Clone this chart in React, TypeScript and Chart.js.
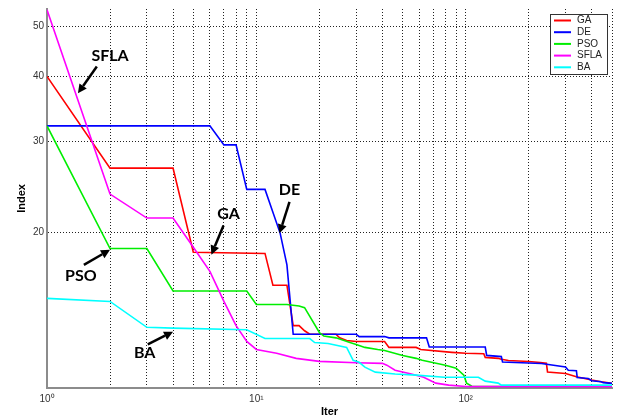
import React, { useEffect, useRef } from 'react';
import { Chart, registerables } from 'chart.js';

Chart.register(...registerables);

// ---- Data (iteration, index) ----
const GA_ITER = [1, 2, 4, 5, 11, 12, 14, 15, 16, 17, 18, 24, 25, 27, 30, 41, 43, 58, 61, 86, 100, 122, 124, 143, 148, 160, 200, 227, 243, 246, 300, 338, 400, 444, 500];
const GA_INDEX = [40, 26.6, 26.6, 18.3, 18.2, 15.8, 15.8, 13.2, 13.2, 12.9, 12.7, 12.7, 12.5, 12.35, 12.3, 12.3, 11.98, 11.98, 11.87, 11.72, 11.67, 11.65, 11.46, 11.41, 11.36, 11.3, 11.25, 11.2, 11.16, 10.74, 10.67, 10.51, 10.36, 10.28, 10.21];

const DE_ITER = [1, 6, 7, 8, 9, 11, 13, 14, 15, 30, 31, 41, 43, 65, 67, 124, 126, 148, 150, 230, 300, 309, 338, 341, 385, 400, 444, 454, 500];
const DE_INDEX = [32.1, 32.1, 29.5, 29.5, 24.2, 24.2, 19.9, 17.3, 12.7, 12.7, 12.57, 12.57, 12.5, 12.5, 12.0, 12.0, 11.56, 11.5, 11.23, 11.15, 10.98, 10.82, 10.8, 10.48, 10.43, 10.33, 10.28, 10.24, 10.21];

const PSO_ITER = [1, 2, 3, 4, 9, 10, 14, 16, 17, 20, 21, 24, 28, 30, 33, 38, 41, 50, 58, 62, 80, 90, 98, 101, 107, 115, 500];
const PSO_INDEX = [32.1, 18.6, 18.6, 15.4, 15.4, 14.5, 14.5, 14.4, 14.3, 12.8, 12.6, 12.5, 12.24, 12.14, 11.98, 11.87, 11.82, 11.56, 11.41, 11.31, 11.07, 10.92, 10.59, 10.22, 10.08, 10.06, 10.06];

const SFLA_ITER = [1, 2, 3, 4, 5, 6, 7, 8, 9, 10, 12.5, 15.5, 20, 30, 40, 42, 46, 55, 63, 72, 83, 100, 112, 500];
const SFLA_INDEX = [53.8, 23.7, 21.3, 21.3, 18.7, 16.8, 14.7, 13.2, 12.3, 11.87, 11.67, 11.41, 11.26, 11.19, 11.16, 11.07, 10.82, 10.64, 10.49, 10.22, 10.13, 10.07, 10.06, 10.06];

const BA_ITER = [1, 2, 3, 4, 9, 11, 18, 19, 22, 27, 29, 31, 33, 37, 46, 58, 79, 115, 124, 143, 148, 500];
const BA_INDEX = [14.9, 14.7, 13.1, 13.05, 12.96, 12.46, 12.46, 12.24, 12.19, 11.98, 11.31, 11.21, 10.97, 10.73, 10.64, 10.59, 10.49, 10.49, 10.31, 10.22, 10.13, 10.13];

const SERIES_NAMES = ['GA', 'DE', 'PSO', 'SFLA', 'BA'];
const SERIES_COLORS = ['#ff0000', '#0000ff', '#00ee00', '#ff00ff', '#00ffff'];

const X_GRID = [1, 2, 3, 4, 5, 6, 7, 8, 9, 10, 20, 30, 40, 50, 60, 70, 80, 90, 100, 200, 300, 400, 500];
const X_LABELS: Record<number, string> = { 1: '10\u2070', 10: '10\u00b9', 100: '10\u00b2' };
const Y_TICKS = [20, 30, 40, 50];

// Annotations (text + arrow) in data coordinates
const NOTE_TEXT = ['SFLA', 'PSO', 'BA', 'GA', 'DE'];
const NOTE_ITER = [2.0, 1.45, 2.93, 7.36, 14.4];
const NOTE_INDEX = [43.9, 16.5, 11.67, 21.7, 24.1];
const ARROW_FROM_ITER = [1.73, 1.5, 3.03, 6.97, 14.4];
const ARROW_FROM_INDEX = [41.8, 17.3, 12.14, 20.6, 22.9];
const ARROW_TO_ITER = [1.405, 2.0, 4.0, 6.1, 12.9];
const ARROW_TO_INDEX = [37.1, 18.5, 12.85, 18.1, 19.9];

const SERIES_ITER = [GA_ITER, DE_ITER, PSO_ITER, SFLA_ITER, BA_ITER];
const SERIES_INDEX = [GA_INDEX, DE_INDEX, PSO_INDEX, SFLA_INDEX, BA_INDEX];

function drawArrow(ctx: CanvasRenderingContext2D, x1: number, y1: number, x2: number, y2: number) {
  const ang = Math.atan2(y2 - y1, x2 - x1);
  const head = 9;
  const half = 4.5;
  const bx = x2 - head * Math.cos(ang);
  const by = y2 - head * Math.sin(ang);
  ctx.lineWidth = 2.5;
  ctx.strokeStyle = '#000';
  ctx.fillStyle = '#000';
  ctx.setLineDash([]);
  ctx.beginPath();
  ctx.moveTo(x1, y1);
  ctx.lineTo(bx, by);
  ctx.stroke();
  ctx.beginPath();
  ctx.moveTo(x2, y2);
  ctx.lineTo(bx - half * Math.sin(ang), by + half * Math.cos(ang));
  ctx.lineTo(bx + half * Math.sin(ang), by - half * Math.cos(ang));
  ctx.closePath();
  ctx.fill();
}

const notesPlugin = {
  id: 'notes',
  afterDatasetsDraw(chart: any) {
    const { ctx, scales } = chart;
    const xs = scales.x;
    const ys = scales.y;
    ctx.save();
    for (let i = 0; i < NOTE_TEXT.length; i++) {
      drawArrow(
        ctx,
        xs.getPixelForValue(ARROW_FROM_ITER[i]),
        ys.getPixelForValue(ARROW_FROM_INDEX[i]),
        xs.getPixelForValue(ARROW_TO_ITER[i]),
        ys.getPixelForValue(ARROW_TO_INDEX[i])
      );
      ctx.font = 'bold 16px Lato, "Liberation Sans", sans-serif';
      ctx.fillStyle = '#000';
      ctx.textAlign = 'center';
      ctx.textBaseline = 'middle';
      ctx.fillText(NOTE_TEXT[i], xs.getPixelForValue(NOTE_ITER[i]), ys.getPixelForValue(NOTE_INDEX[i]));
    }
    ctx.restore();
  },
};

const boxLegendPlugin = {
  id: 'boxLegend',
  afterDraw(chart: any) {
    const { ctx, chartArea } = chart;
    const w = 58;
    const h = 61;
    const left = chartArea.right - 4 - w;
    const top = chartArea.top + 5;
    ctx.save();
    ctx.setLineDash([]);
    ctx.fillStyle = '#ffffff';
    ctx.fillRect(left, top, w, h);
    ctx.strokeStyle = '#333';
    ctx.lineWidth = 1;
    ctx.strokeRect(left + 0.5, top + 0.5, w - 1, h - 1);
    chart.data.datasets.forEach((ds: any, i: number) => {
      const y = top + 6.5 + i * 11.7;
      ctx.strokeStyle = ds.borderColor;
      ctx.lineWidth = 2;
      ctx.beginPath();
      ctx.moveTo(left + 4, y);
      ctx.lineTo(left + 21, y);
      ctx.stroke();
      ctx.fillStyle = '#222';
      ctx.font = '10px "Liberation Sans", Arial, sans-serif';
      ctx.textAlign = 'left';
      ctx.textBaseline = 'middle';
      ctx.fillText(ds.label, left + 27, y);
    });
    ctx.restore();
  },
};

export default function App() {
  const canvasRef = useRef<HTMLCanvasElement | null>(null);

  useEffect(() => {
    if (!canvasRef.current) return;
    const datasets = SERIES_NAMES.map((name, i) => ({
      label: name,
      data: SERIES_ITER[i].map((x, j) => ({ x, y: SERIES_INDEX[i][j] })),
      borderColor: SERIES_COLORS[i],
      backgroundColor: SERIES_COLORS[i],
      borderWidth: 1.6,
      pointRadius: 0,
      tension: 0,
      fill: false,
      order: SERIES_NAMES.length - i,
    }));

    const tickFont = { family: '"Liberation Sans", Arial, sans-serif', size: 10 };
    const titleFont = { family: '"Liberation Sans", Arial, sans-serif', size: 11, weight: 'bold' as const };

    const chart = new Chart(canvasRef.current, {
      type: 'line',
      data: { datasets },
      options: {
        animation: false,
        responsive: false,
        maintainAspectRatio: false,
        layout: { padding: { left: 0, right: 4, top: 5, bottom: 0 } },
        plugins: { legend: { display: false }, tooltip: { enabled: false } },
        scales: {
          x: {
            type: 'logarithmic',
            min: 1,
            max: 500,
            bounds: 'data',
            afterBuildTicks: (axis: any) => {
              axis.ticks = X_GRID.map((v) => ({ value: v }));
            },
            afterFit: (axis: any) => {
              axis.height = 31;
            },
            grid: { color: '#222', lineWidth: 1, drawTicks: false },
            border: { display: true, color: '#8c8c8c', width: 2, dash: [1, 2] },
            ticks: {
              autoSkip: false,
              maxRotation: 0,
              padding: 5,
              color: '#333',
              font: tickFont,
              callback: (v: any) => X_LABELS[Number(v)] ?? '',
            },
            title: { display: true, text: 'Iter', color: '#000', font: titleFont, padding: { top: 0, bottom: 0 } },
          },
          y: {
            type: 'logarithmic',
            min: 10,
            max: 54,
            bounds: 'data',
            afterBuildTicks: (axis: any) => {
              axis.ticks = Y_TICKS.map((v) => ({ value: v }));
            },
            afterFit: (axis: any) => {
              axis.width = 47;
            },
            grid: { color: '#222', lineWidth: 1, drawTicks: false },
            border: { display: true, color: '#8c8c8c', width: 2, dash: [1, 2] },
            ticks: {
              autoSkip: false,
              padding: 3,
              color: '#333',
              font: tickFont,
              callback: (v: any) => String(v),
            },
            title: { display: true, text: 'Index', color: '#000', font: titleFont, padding: { top: 15, bottom: 0 } },
          },
        },
      } as any,
      plugins: [notesPlugin, boxLegendPlugin],
    });
    return () => chart.destroy();
  }, []);

  return (
    <div style={{ position: 'absolute', left: 0, top: 0, width: 617, height: 419, background: '#fff' }}>
      <canvas ref={canvasRef} width={617} height={419} />
    </div>
  );
}
